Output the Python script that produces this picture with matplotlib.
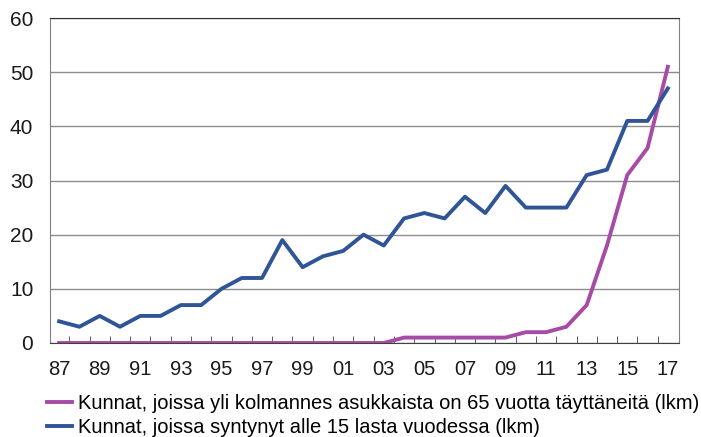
import numpy as np
import matplotlib.pyplot as plt

plt.rcParams['font.family'] = ['Liberation Sans', 'DejaVu Sans']

vuodet = ['87', '88', '89', '90', '91', '92', '93', '94', '95', '96', '97', '98', '99', '00',
          '01', '02', '03', '04', '05', '06', '07', '08', '09', '10', '11', '12', '13', '14',
          '15', '16', '17']
vanhat = [0, 0, 0, 0, 0, 0, 0, 0, 0, 0, 0, 0, 0, 0, 0, 0, 0,
          1, 1, 1, 1, 1, 1, 2, 2, 3, 7, 18, 31, 36, 51]
syntyneet = [4, 3, 5, 3, 5, 5, 7, 7, 10, 12, 12, 19, 14, 16, 17, 20, 18,
             23, 24, 23, 27, 24, 29, 25, 25, 25, 31, 32, 41, 41, 47]
nimet = ['Kunnat, joissa yli kolmannes asukkaista on 65 vuotta täyttäneitä (lkm)',
         'Kunnat, joissa syntynyt alle 15 lasta vuodessa (lkm)']

fig = plt.figure(figsize=(7.01, 4.37), dpi=100)
ax = fig.add_axes([50 / 701, 1 - 343 / 437, 629 / 701, 325 / 437])

x = np.arange(len(vuodet))
ax.plot(x, vanhat, color='#A64CA6', lw=2.8, label=nimet[0])
ax.plot(x, syntyneet, color='#2F5597', lw=2.8, label=nimet[1])

ax.set_xlim(-0.45, len(vuodet) - 0.45)
ax.set_ylim(0, 60)
ax.set_yticks(range(0, 61, 10))
ax.yaxis.grid(True, color='#8c8c8c', lw=1)
ax.set_axisbelow(True)

ax.set_xticks(x[::2])
ax.set_xticklabels(vuodet[::2])
ax.set_xticks(x[:-1] + 0.5, minor=True)
ax.tick_params(axis='x', which='major', length=0, pad=12, labelsize=14.5, colors='#1a1a1a')
ax.tick_params(axis='x', which='minor', direction='in', length=5, color='#404040')
ax.tick_params(axis='y', length=0, pad=12, labelsize=15, colors='#1a1a1a')

for s in ['left', 'right']:
    ax.spines[s].set_color('#808080')
ax.spines['top'].set_color('#303030')
ax.spines['bottom'].set_color('#404040')

fig.legend(loc='upper left', bbox_to_anchor=(47 / 701, 1 - 394 / 437), frameon=False,
           fontsize=14.5, handlelength=1.25, handletextpad=0.3, labelspacing=0.25,
           borderaxespad=0, borderpad=0)

fig.savefig('out.png', dpi=100)
